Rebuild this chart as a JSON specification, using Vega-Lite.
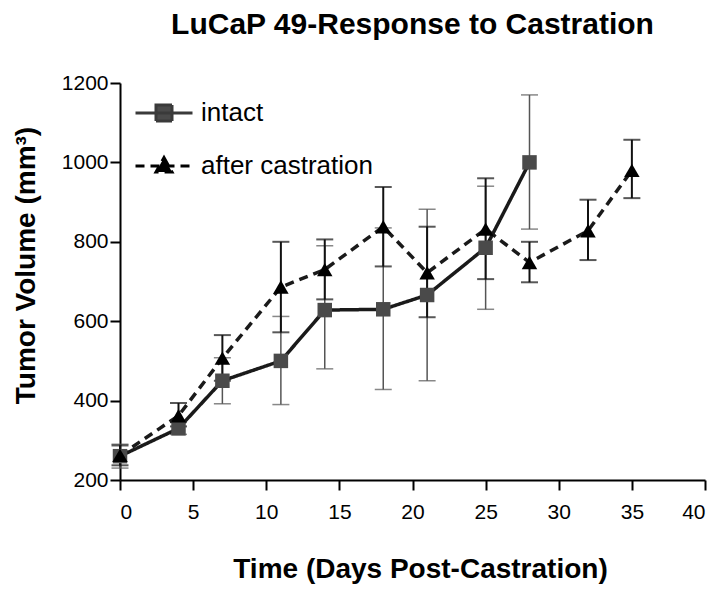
{
  "$schema": "https://vega.github.io/schema/vega-lite/v6.json",
  "width": 585,
  "height": 397,
  "autosize": "none",
  "padding": {"left": 120, "top": 83, "right": 15, "bottom": 110},
  "background": "white",
  "title": {
    "text": "LuCaP 49-Response to Castration",
    "font": "Liberation Sans",
    "fontSize": 30,
    "fontWeight": "bold",
    "color": "black",
    "anchor": "middle",
    "baseline": "alphabetic",
    "offset": 8
  },
  "data": {
    "values": [
      {"group": "intact", "day": 0, "volume": 260, "lo": 230, "hi": 290},
      {"group": "intact", "day": 4, "volume": 330, "lo": 315, "hi": 345},
      {"group": "intact", "day": 7, "volume": 450, "lo": 392, "hi": 508},
      {"group": "intact", "day": 11, "volume": 500, "lo": 390, "hi": 612},
      {"group": "intact", "day": 14, "volume": 628, "lo": 480, "hi": 790},
      {"group": "intact", "day": 18, "volume": 630, "lo": 428, "hi": 835},
      {"group": "intact", "day": 21, "volume": 666, "lo": 450, "hi": 882},
      {"group": "intact", "day": 25, "volume": 785, "lo": 630, "hi": 940},
      {"group": "intact", "day": 28, "volume": 1000, "lo": 832, "hi": 1170},
      {"group": "after castration", "day": 0, "volume": 262, "lo": 237, "hi": 287},
      {"group": "after castration", "day": 4, "volume": 362, "lo": 335, "hi": 394},
      {"group": "after castration", "day": 7, "volume": 507, "lo": 450, "hi": 565},
      {"group": "after castration", "day": 11, "volume": 686, "lo": 572, "hi": 800},
      {"group": "after castration", "day": 14, "volume": 730, "lo": 655, "hi": 806},
      {"group": "after castration", "day": 18, "volume": 838, "lo": 738, "hi": 938},
      {"group": "after castration", "day": 21, "volume": 722, "lo": 610, "hi": 838},
      {"group": "after castration", "day": 25, "volume": 832, "lo": 706, "hi": 960},
      {"group": "after castration", "day": 28, "volume": 748, "lo": 698, "hi": 800},
      {"group": "after castration", "day": 32, "volume": 828, "lo": 754, "hi": 906},
      {"group": "after castration", "day": 35, "volume": 980, "lo": 910, "hi": 1057}
    ]
  },
  "encoding": {
    "x": {
      "field": "day",
      "type": "quantitative",
      "scale": {"domain": [0, 40], "nice": false, "zero": false},
      "axis": {
        "title": "Time (Days Post-Castration)",
        "values": [0, 5, 10, 15, 20, 25, 30, 35, 40],
        "titleX": 300,
        "titleY": 97,
        "titleBaseline": "alphabetic",
        "labelPadding": 11
      }
    },
    "y": {
      "field": "volume",
      "type": "quantitative",
      "scale": {"domain": [200, 1200], "nice": false, "zero": false},
      "axis": {
        "title": "Tumor Volume (mm³)",
        "format": "d",
        "values": [200, 400, 600, 800, 1000, 1200],
        "titleX": -86,
        "titleY": 182,
        "titleAngle": -90,
        "titleBaseline": "alphabetic",
        "titleAlign": "center",
        "labelPadding": 2
      }
    }
  },
  "layer": [
    {
      "transform": [{"filter": "datum.group === 'intact'"}],
      "mark": {"type": "rule", "strokeWidth": 1.5, "color": "#555555"},
      "encoding": {
        "y": {"field": "lo", "type": "quantitative"},
        "y2": {"field": "hi"}
      }
    },
    {
      "transform": [{"filter": "datum.group === 'intact'"}],
      "mark": {"type": "tick", "orient": "horizontal", "size": 17, "thickness": 1.5, "color": "#555555"},
      "encoding": {"y": {"field": "lo", "type": "quantitative"}}
    },
    {
      "transform": [{"filter": "datum.group === 'intact'"}],
      "mark": {"type": "tick", "orient": "horizontal", "size": 17, "thickness": 1.5, "color": "#555555"},
      "encoding": {"y": {"field": "hi", "type": "quantitative"}}
    },
    {
      "transform": [{"filter": "datum.group === 'after castration'"}],
      "mark": {"type": "rule", "strokeWidth": 2, "color": "#111111"},
      "encoding": {
        "y": {"field": "lo", "type": "quantitative"},
        "y2": {"field": "hi"}
      }
    },
    {
      "transform": [{"filter": "datum.group === 'after castration'"}],
      "mark": {"type": "tick", "orient": "horizontal", "size": 17, "thickness": 2, "color": "#111111"},
      "encoding": {"y": {"field": "lo", "type": "quantitative"}}
    },
    {
      "transform": [{"filter": "datum.group === 'after castration'"}],
      "mark": {"type": "tick", "orient": "horizontal", "size": 17, "thickness": 2, "color": "#111111"},
      "encoding": {"y": {"field": "hi", "type": "quantitative"}}
    },
    {
      "mark": {"type": "line", "strokeWidth": 3.5, "color": "#1a1a1a"},
      "encoding": {
        "strokeDash": {
          "field": "group",
          "type": "nominal",
          "scale": {"domain": ["intact", "after castration"], "range": [[1, 0], [9, 6]]},
          "legend": {
            "title": null,
            "orient": "none",
            "legendX": 31,
            "legendY": 17,
            "symbolSize": 400,
            "symbolStrokeWidth": 3,
            "symbolStrokeColor": "#222222",
            "labelOffset": 24,
            "labelFont": "Liberation Sans",
            "labelFontSize": 26,
            "labelColor": "black",
            "labelLimit": 400,
            "rowPadding": 24,
            "encode": {
              "symbols": {
                "update": {
                  "shape": {"signal": "datum.value === 'intact' ? 'M-2.85,0H2.85M-0.8,-0.8H0.8V0.8H-0.8Z' : 'M-2.85,0H2.85M0,-0.85L0.8,0.6H-0.8Z'"},
                  "fill": {"signal": "datum.value === 'intact' ? '#4a4a4a' : '#000000'"},
                  "stroke": {"signal": "datum.value === 'intact' ? '#3a3a3a' : '#000000'"}
                }
              }
            }
          }
        }
      }
    },
    {
      "transform": [{"filter": "datum.group === 'intact'"}],
      "mark": {"type": "point", "shape": "square", "filled": true, "opacity": 1, "size": 210, "color": "#4a4a4a"}
    },
    {
      "transform": [{"filter": "datum.group === 'after castration'"}],
      "mark": {"type": "point", "shape": "triangle-up", "filled": true, "opacity": 1, "size": 240, "color": "#000000"}
    }
  ],
  "config": {
    "view": {"stroke": null},
    "font": "Liberation Sans",
    "axis": {
      "grid": false,
      "domainColor": "black",
      "domainWidth": 2,
      "tickColor": "black",
      "tickWidth": 2,
      "tickSize": 10,
      "labelFont": "Liberation Sans",
      "labelFontSize": 21,
      "labelColor": "black",
      "titleFont": "Liberation Sans",
      "titleFontSize": 28,
      "titleFontWeight": "bold",
      "titleColor": "black"
    }
  }
}
